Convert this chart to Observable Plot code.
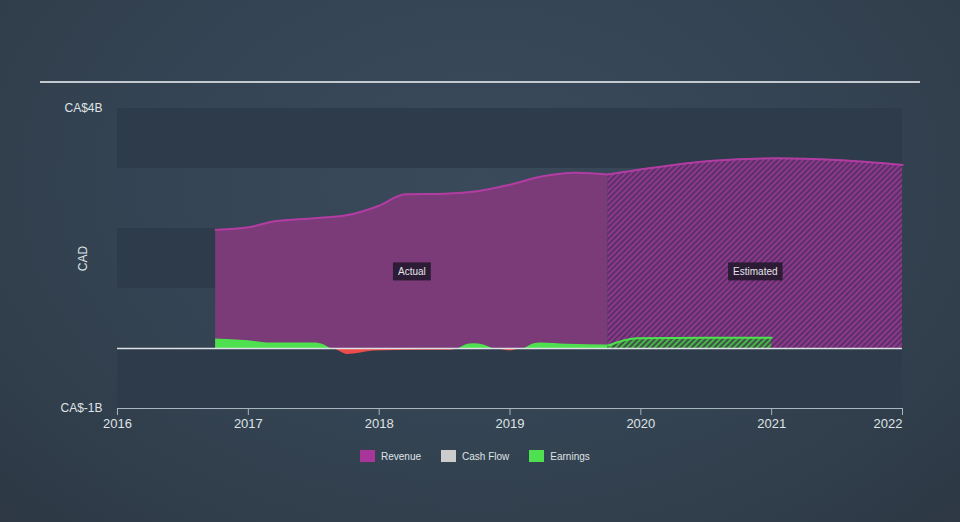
<!DOCTYPE html>
<html>
<head>
<meta charset="utf-8">
<script src="https://cdn.jsdelivr.net/npm/d3@7"></script>
<script src="https://cdn.jsdelivr.net/npm/@observablehq/plot@0.6"></script>
<style>
html, body { margin: 0; padding: 0; }
body {
  width: 960px; height: 522px; overflow: hidden; position: relative;
  background: radial-gradient(ellipse at 50% 35%, #3a4a5b 0%, #344352 55%, #2d3844 100%);
  font-family: "Liberation Sans", Arial, sans-serif;
}
#rule { position: absolute; left: 40px; top: 81px; width: 880px; height: 1.5px; background: #c3c9cf; }
#chart { position: absolute; left: 0; top: 0; }
#legend { position: absolute; top: 450px; left: 360px; display: flex; align-items: center; font-size: 10px; color: #dfe3e6; }
#legend .item { display: flex; align-items: center; margin-right: 20px; }
#legend .sw { width: 15px; height: 12px; margin-right: 6px; }
</style>
</head>
<body>
<div id="rule"></div>
<div id="chart"></div>
<div id="legend"></div>
<script>
// ---- data (billions CAD) ----
const years = [2016, 2017, 2018, 2019, 2020, 2021, 2022];
const yTicks = [-1, 4];

const revActualX = [2016.75, 2017.0, 2017.2, 2017.5, 2017.75, 2018.0, 2018.2, 2018.5, 2018.75, 2019.0, 2019.25, 2019.5, 2019.75];
const revActualY = [1.98, 2.02, 2.12, 2.17, 2.22, 2.38, 2.57, 2.58, 2.62, 2.73, 2.87, 2.93, 2.90];

const revEstX = [2019.75, 2020.05, 2020.55, 2021.05, 2021.5, 2022.0];
const revEstY = [2.90, 3.00, 3.13, 3.17, 3.14, 3.06];

const earnActualX = [2016.75, 2017.0, 2017.17, 2017.5, 2017.58, 2017.64, 2017.76, 2017.96, 2018.3, 2018.55, 2018.6, 2018.66, 2018.72, 2018.8, 2018.88, 2019.0, 2019.1, 2019.16, 2019.23, 2019.44, 2019.75];
const earnActualY = [0.16, 0.13, 0.09, 0.09, 0.06, 0.0, -0.10, -0.04, -0.03, -0.03, 0.0, 0.06, 0.08, 0.06, 0.0, -0.04, 0.0, 0.06, 0.09, 0.07, 0.06];

const earnEstX = [2019.75, 2019.97, 2020.5, 2021.0];
const earnEstY = [0.05, 0.17, 0.18, 0.18];

const legendLabels = ["Revenue", "Cash Flow", "Earnings"];
const legendColors = ["#a8369a", "#cccccc", "#4fe04f"];

const annotations = [
  {label: "Actual", x: (revActualX[0] + revActualX[revActualX.length - 1]) / 2, y: 1.28},
  {label: "Estimated", x: (revEstX[0] + revEstX[revEstX.length - 1]) / 2, y: 1.28}
];

// ---- build tables ----
const zip = (xs, ys) => xs.map((x, i) => ({x, y: ys[i]}));
const revActual = zip(revActualX, revActualY);
const revEst = zip(revEstX, revEstY);
const earnActual = zip(earnActualX, earnActualY);
const earnEst = zip(earnEstX, earnEstY);
const bands = [[3, 4], [1, 2], [-1, 0]];
const x0 = d3.min(years), x1 = d3.max(years);

const curve = "monotone-x";
const purpleLine = "#b23da2";
const green = "#4fe04f";
const red = "#ee4b4b";
const axisColor = "#aab4be";
const textColor = "#dfe3e6";

const chart = Plot.plot({
  width: 960,
  height: 430,
  marginLeft: 117,
  marginRight: 58,
  marginTop: 108,
  marginBottom: 22,
  style: {background: "transparent", color: textColor, fontFamily: "'Liberation Sans', Arial, sans-serif", fontSize: "13px"},
  x: {domain: [x0, x1]},
  y: {domain: [-1, 4]},
  marks: [
    Plot.rect(bands, {x1: x0, x2: x1, y1: d => d[0], y2: d => d[1], fill: "#2e3b4a"}),
    // revenue actual
    Plot.areaY(revActual, {x: "x", y: "y", fill: "#7b3a78", curve}),
    Plot.lineY(revActual, {x: "x", y: "y", stroke: purpleLine, strokeWidth: 2, curve}),
    // revenue estimate
    Plot.areaY(revEst, {x: "x", y: "y", fill: "url(#hatchR)", curve}),
    Plot.lineY(revEst, {x: "x", y: "y", stroke: purpleLine, strokeWidth: 2, curve}),
    // earnings actual
    Plot.areaY(earnActual, {x: "x", y: d => Math.max(d.y, 0), fill: green, curve}),
    Plot.areaY(earnActual, {x: "x", y: d => Math.min(d.y, 0), fill: red, curve}),
    // earnings estimate
    Plot.areaY(earnEst, {x: "x", y: "y", fill: "url(#hatchG)", curve}),
    Plot.lineY(earnEst, {x: "x", y: "y", stroke: green, strokeWidth: 2, curve}),
    // zero line & axes
    Plot.ruleY([0], {stroke: "#dde2e6", strokeWidth: 1.5}),
    Plot.ruleY([-1], {stroke: axisColor, strokeWidth: 1}),
    Plot.axisX(years.slice(0, -1), {tickSize: 7, tickPadding: 3, stroke: axisColor, fill: textColor, tickFormat: d => String(d), label: null}),
    Plot.axisX(years.slice(-1), {tickSize: 7, tickPadding: 3, stroke: axisColor, fill: textColor, tickFormat: d => String(d), textAnchor: "end", label: null}),
    Plot.axisY(yTicks, {tickSize: 0, tickPadding: 15, fill: textColor, tickFormat: d => `CA$${d}B`, label: "CAD", labelArrow: "none", labelAnchor: "center", labelOffset: 39, fontSize: 12}),
    // annotations
    Plot.text(annotations, {x: "x", y: "y", text: "label", fill: "#e4e4e8", fontSize: 10})
  ]
});

// hatch patterns
const ns = "http://www.w3.org/2000/svg";
const defs = document.createElementNS(ns, "defs");
defs.innerHTML = `
  <pattern id="hatchR" patternUnits="userSpaceOnUse" width="4" height="4" patternTransform="rotate(45)">
    <rect width="4" height="4" fill="#5a3067"></rect>
    <rect width="1.8" height="4" fill="#933990"></rect>
  </pattern>
  <pattern id="hatchG" patternUnits="userSpaceOnUse" width="4" height="4" patternTransform="rotate(45)">
    <rect width="4" height="4" fill="#3d5545"></rect>
    <rect width="1.6" height="4" fill="#4cc94c"></rect>
  </pattern>`;
chart.insertBefore(defs, chart.firstChild);
document.getElementById("chart").appendChild(chart);

// background boxes behind annotation labels
const annotTexts = Array.from(chart.querySelectorAll("text"))
  .filter(t => annotations.some(a => a.label === t.textContent));
annotTexts.forEach(t => {
  const b = t.getBBox();
  const r = document.createElementNS(ns, "rect");
  r.setAttribute("x", b.x - 5);
  r.setAttribute("y", b.y - 3.5);
  r.setAttribute("width", b.width + 10);
  r.setAttribute("height", b.height + 7);
  r.setAttribute("fill", "#24192e");
  r.setAttribute("fill-opacity", "0.9");
  const tr = t.getAttribute("transform");
  if (tr) r.setAttribute("transform", tr);
  t.parentNode.insertBefore(r, t);
});

// legend
const legend = document.getElementById("legend");
legendLabels.forEach((l, i) => {
  const item = document.createElement("div");
  item.className = "item";
  item.innerHTML = `<div class="sw" style="background:${legendColors[i]}"></div><span>${l}</span>`;
  legend.appendChild(item);
});
</script>
</body>
</html>
